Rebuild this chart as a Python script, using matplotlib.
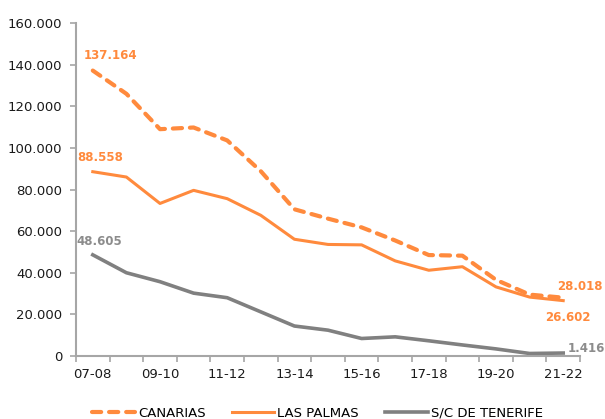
import numpy as np
import matplotlib
matplotlib.use("Agg")
import matplotlib.pyplot as plt
from matplotlib.ticker import FuncFormatter, FixedLocator

# Seasons and series values
seasons = ["07-08", "08-09", "09-10", "10-11", "11-12", "12-13", "13-14", "14-15",
           "15-16", "16-17", "17-18", "18-19", "19-20", "20-21", "21-22"]
canarias = [137164, 126000, 109000, 109800, 103600, 88800, 70500, 66000,
            61800, 55500, 48500, 48200, 36600, 29500, 28018]
las_palmas = [88558, 86000, 73300, 79600, 75600, 67600, 56100, 53600,
              53400, 45700, 41200, 42900, 33200, 28300, 26602]
tenerife = [48605, 40000, 35700, 30200, 28000, 21200, 14400, 12400,
            8400, 9200, 7300, 5300, 3400, 1200, 1416]

orange = "#FF8A3D"
gray = "#808080"

fig = plt.figure(figsize=(6.05, 4.19), dpi=100)
ax = fig.add_axes([0.1256, 0.1504, 0.8331, 0.7946])

x = np.arange(len(seasons))
ax.plot(x, canarias, color=orange, lw=3.0, dashes=(2.2, 1.9),
        dash_capstyle="round", solid_capstyle="round", label="CANARIAS", zorder=4)
ax.plot(x, las_palmas, color=orange, lw=2.2, label="LAS PALMAS", zorder=3)
ax.plot(x, tenerife, color=gray, lw=2.6, label="S/C DE TENERIFE", zorder=2)

def fmt(v):
    return f"{int(round(v)):,}".replace(",", ".")

lab = dict(fontsize=8.5, fontweight="bold", textcoords="offset points")
ax.annotate(fmt(canarias[0]), (x[0], canarias[0]), xytext=(13, 11), ha="center",
            va="center", color=orange, **lab)
ax.annotate(fmt(las_palmas[0]), (x[0], las_palmas[0]), xytext=(5, 10), ha="center",
            va="center", color=orange, **lab)
ax.annotate(fmt(tenerife[0]), (x[0], tenerife[0]), xytext=(5, 9.5), ha="center",
            va="center", color="#8c8c8c", **lab)
ax.annotate(fmt(canarias[-1]), (x[-1], canarias[-1]), xytext=(12, 8), ha="center",
            va="center", color=orange, **lab)
ax.annotate(fmt(las_palmas[-1]), (x[-1], las_palmas[-1]), xytext=(3, -12), ha="center",
            va="center", color=orange, **lab)
ax.annotate(fmt(tenerife[-1]), (x[-1], tenerife[-1]), xytext=(3.5, 3.5), ha="left",
            va="center", color="#8c8c8c", **lab)

ax.set_xlim(-0.5, len(seasons) - 0.5)
ax.set_ylim(0, 160000)
ax.set_yticks(np.arange(0, 160001, 20000))
ax.yaxis.set_major_formatter(FuncFormatter(lambda v, p: fmt(v)))

# category boundaries as ticks, labels on every other season
ax.xaxis.set_major_locator(FixedLocator(np.arange(-0.5, len(seasons), 1.0)))
ax.xaxis.set_major_formatter(FuncFormatter(lambda v, p: ""))
ax.xaxis.set_minor_locator(FixedLocator(x[::2]))
ax.set_xticklabels(seasons[::2], minor=True)

for s in ["top", "right"]:
    ax.spines[s].set_visible(False)
for s in ["left", "bottom"]:
    ax.spines[s].set_color("#a6a6a6")
    ax.spines[s].set_linewidth(1.5)

ax.tick_params(axis="y", length=4, width=1.2, color="#a6a6a6", pad=6,
               labelsize=9.5, labelcolor="#1a1a1a")
ax.tick_params(axis="x", which="major", length=4, width=1.2, color="#a6a6a6")
ax.tick_params(axis="x", which="minor", length=0, pad=9, labelsize=9.5,
               labelcolor="#1a1a1a")

fig.legend(loc="lower center", bbox_to_anchor=(0.525, -0.03), ncol=3, frameon=False,
           fontsize=9.5, handlelength=3.2, handletextpad=0.25, columnspacing=2.0)

fig.savefig("out.png", dpi=100)
